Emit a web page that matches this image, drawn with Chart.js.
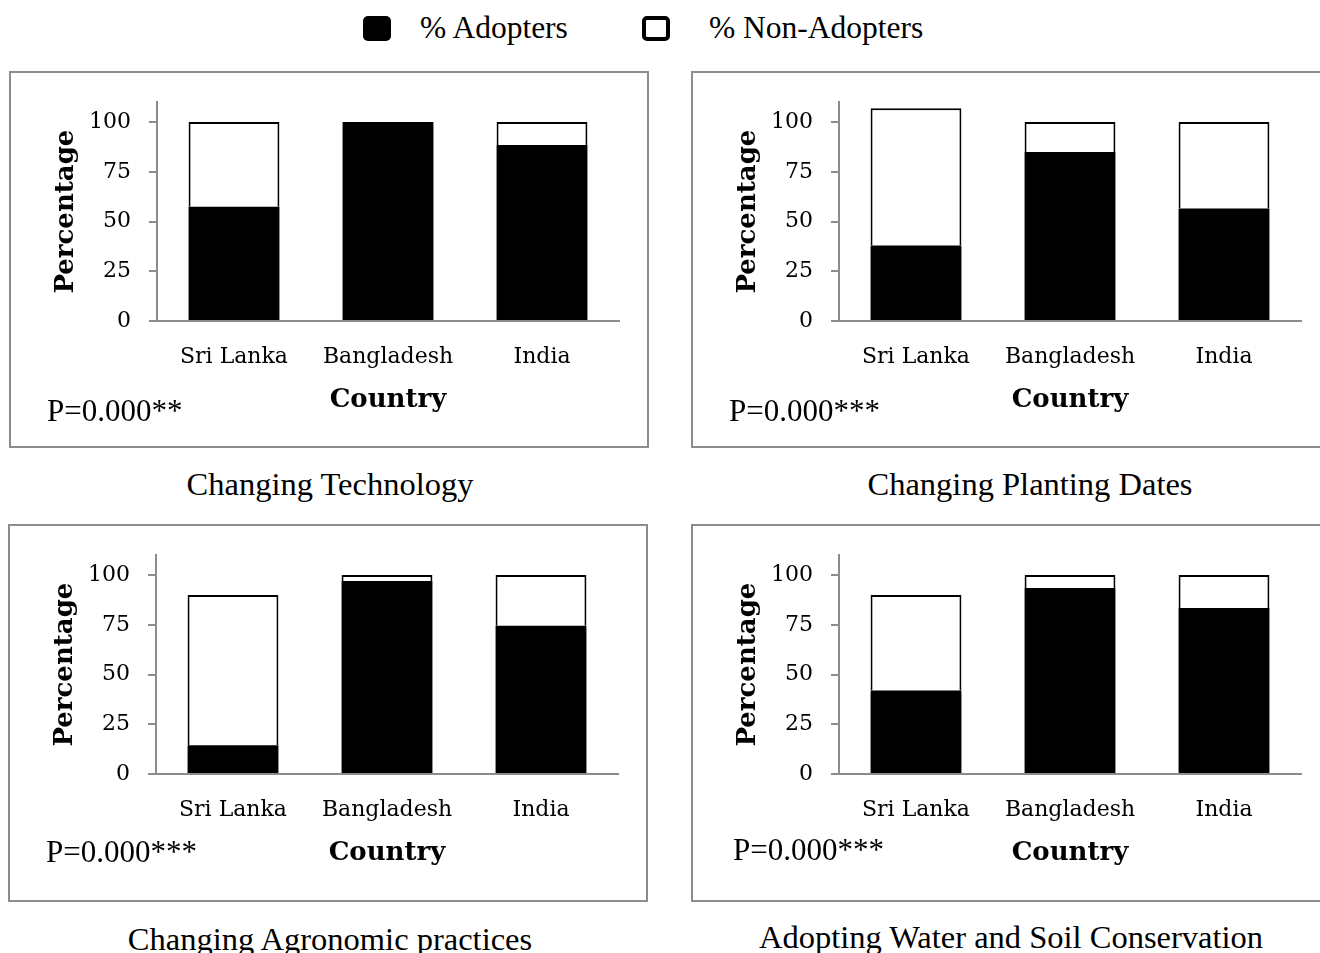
<!DOCTYPE html>
<html>
<head>
<meta charset="utf-8">
<script src="https://cdn.jsdelivr.net/npm/chart.js@4/dist/chart.umd.min.js"></script>
<style>
  html, body { margin: 0; padding: 0; background: #fff; }
  body { width: 1320px; height: 953px; position: relative; overflow: hidden; font-family: "Liberation Serif", serif; color: #000; }
  .box { position: absolute; border: 2px solid #8c8c8c; box-sizing: border-box; }
  .box canvas { position: absolute; left: -2px; top: -2px; }
  .ptext { position: absolute; font-size: 31px; line-height: 36px; white-space: nowrap; transform: translateY(-50%); }
  .caption { position: absolute; font-size: 32.5px; line-height: 38px; white-space: nowrap; transform: translate(-50%, -50%); }
  .leg { position: absolute; font-size: 31.5px; line-height: 34px; white-space: nowrap; transform: translateY(-50%); }
  .sw { position: absolute; box-sizing: border-box; border-radius: 5px; }
</style>
</head>
<body>
<div id="legend"></div>
<div id="panels"></div>
<script>
// data
const countries = ['Sri Lanka', 'Bangladesh', 'India'];
const seriesNames = ['% Adopters', '% Non-Adopters'];
const yTicks = [0, 25, 50, 75, 100];
const yMax = 110;

const adoptTech = [57.5, 100, 88.5];
const nonTech = [42.5, 0, 11.5];
const adoptDates = [38, 85, 56.5];
const nonDates = [69, 15, 43.5];
const adoptAgro = [14.5, 97, 74.5];
const nonAgro = [75.5, 3, 25.5];
const adoptWater = [42, 93.5, 83.5];
const nonWater = [48, 6.5, 16.5];

const titles = ['Changing Technology', 'Changing Planting Dates', 'Changing Agronomic practices', 'Adopting Water and Soil Conservation'];
const pValues = ['P=0.000**', 'P=0.000***', 'P=0.000***', 'P=0.000***'];

const panels = [
    { adopt: adoptTech, non: nonTech, left: 9, top: 71, h: 377, pX: 38, pY: 340, capX: 330, capY: 484 },
    { adopt: adoptDates, non: nonDates, left: 691, top: 71, h: 377, pX: 38, pY: 340, capX: 1030, capY: 484 },
    { adopt: adoptAgro, non: nonAgro, left: 8, top: 524, h: 378, pX: 38, pY: 328, capX: 330, capY: 939 },
    { adopt: adoptWater, non: nonWater, left: 691, top: 524, h: 378, pX: 42, pY: 326, capX: 1011, capY: 937 }
];

// legend
const legend = document.getElementById('legend');
const legItems = [
    { sx: 363, tx: 420, fill: '#000', border: 'none' },
    { sx: 642, tx: 709, fill: '#fff', border: '4px solid #000' }
];
legItems.forEach(function(it, i) {
    const sw = document.createElement('div');
    sw.className = 'sw';
    sw.style.left = it.sx + 'px';
    sw.style.top = '16px';
    sw.style.width = '28px';
    sw.style.height = '25px';
    sw.style.background = it.fill;
    sw.style.border = it.border;
    legend.appendChild(sw);
    const t = document.createElement('div');
    t.className = 'leg';
    t.style.left = it.tx + 'px';
    t.style.top = '28px';
    t.textContent = seriesNames[i];
    legend.appendChild(t);
});

const tickFont = { family: 'DejaVu Serif', size: 22 };
const titleFont = { family: 'DejaVu Serif', size: 26, weight: 'bold' };
const axisGrey = '#8c8c8c';

const holder = document.getElementById('panels');
panels.forEach(function(p, i) {
    const box = document.createElement('div');
    box.className = 'box';
    box.style.left = p.left + 'px';
    box.style.top = p.top + 'px';
    box.style.width = '640px';
    box.style.height = p.h + 'px';
    const canvas = document.createElement('canvas');
    canvas.width = 640;
    canvas.height = p.h;
    box.appendChild(canvas);
    const pt = document.createElement('div');
    pt.className = 'ptext';
    pt.style.left = (p.pX - 2) + 'px';
    pt.style.top = (p.pY - 2) + 'px';
    pt.textContent = pValues[i];
    box.appendChild(pt);
    holder.appendChild(box);

    const cap = document.createElement('div');
    cap.className = 'caption';
    cap.style.left = p.capX + 'px';
    cap.style.top = p.capY + 'px';
    cap.textContent = titles[i];
    holder.appendChild(cap);

    new Chart(canvas, {
        type: 'bar',
        data: {
            labels: countries,
            datasets: [
                {
                    label: seriesNames[0],
                    data: p.adopt,
                    backgroundColor: '#000',
                    borderWidth: 0
                },
                {
                    label: seriesNames[1],
                    data: p.non,
                    backgroundColor: '#fff',
                    borderColor: '#000',
                    borderWidth: 2,
                    borderSkipped: 'start'
                }
            ]
        },
        options: {
            responsive: false,
            animation: false,
            events: [],
            categoryPercentage: 1,
            barPercentage: 0.59,
            layout: { padding: { left: 42, top: 30, right: 30, bottom: p.h - 345 } },
            plugins: {
                legend: { display: false },
                tooltip: { enabled: false }
            },
            scales: {
                x: {
                    stacked: true,
                    grid: { display: false, drawTicks: false },
                    border: { display: true, color: axisGrey, width: 2 },
                    ticks: { color: '#000', font: tickFont, padding: 23, maxRotation: 0 },
                    title: { display: true, text: 'Country', color: '#000', font: titleFont, padding: 0 },
                    afterFit: function(s) { s.height = 95; }
                },
                y: {
                    stacked: true,
                    min: 0,
                    max: yMax,
                    grid: { display: true, drawOnChartArea: false, drawTicks: true, tickLength: 8, color: axisGrey, lineWidth: 2 },
                    border: { display: true, color: axisGrey, width: 2 },
                    ticks: { color: '#000', font: tickFont, padding: 18 },
                    afterBuildTicks: function(s) { s.ticks = yTicks.map(function(v) { return { value: v }; }); },
                    title: { display: true, text: 'Percentage', color: '#000', font: titleFont, padding: 0 },
                    afterFit: function(s) { s.width = 106; }
                }
            }
        }
    });
});
</script>
</body>
</html>
